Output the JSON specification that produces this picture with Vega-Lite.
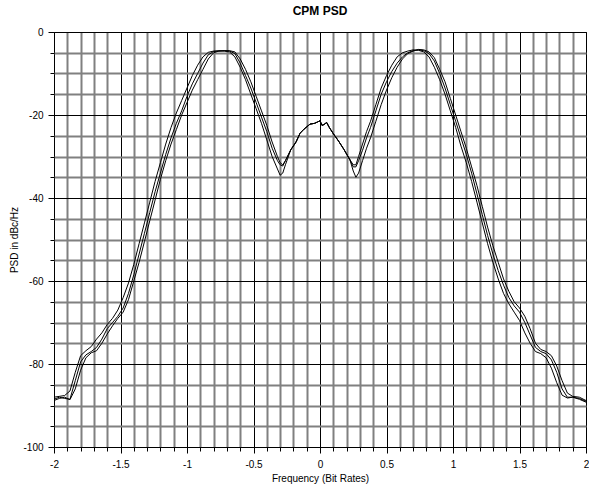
{
  "$schema": "https://vega.github.io/schema/vega-lite/v6.json",
  "autosize": "none",
  "padding": {"left": 54, "top": 32, "right": 3, "bottom": 42},
  "width": 532,
  "height": 415,
  "background": "white",
  "title": {"text": "CPM PSD", "font": "Liberation Sans", "fontSize": 12, "fontWeight": "bold", "color": "black", "offset": 9},
  "config": {
    "view": {"stroke": "black", "strokeWidth": 1},
    "axis": {"labelFont": "Liberation Sans", "titleFont": "Liberation Sans", "labelFontSize": 10, "titleFontSize": 10, "titleFontWeight": "normal", "labelColor": "black", "titleColor": "black", "domain": false, "tickColor": "black", "gridOpacity": 1}
  },
  "data": {
    "values": [
      {"f": -2.00, "a": -88.5, "b": -88.0, "c": -88.8},
      {"f": -1.96, "a": -88.0, "b": -87.8, "c": -88.3},
      {"f": -1.92, "a": -88.3, "b": -87.6, "c": -88.0},
      {"f": -1.88, "a": -88.5, "b": -86.5, "c": -88.6},
      {"f": -1.84, "a": -84.0, "b": -82.0, "c": -86.0},
      {"f": -1.80, "a": -79.5, "b": -78.0, "c": -81.5},
      {"f": -1.76, "a": -77.8, "b": -76.8, "c": -78.5},
      {"f": -1.72, "a": -77.0, "b": -75.8, "c": -77.3},
      {"f": -1.68, "a": -76.0, "b": -74.0, "c": -76.8},
      {"f": -1.64, "a": -74.0, "b": -72.5, "c": -75.0},
      {"f": -1.60, "a": -71.5, "b": -70.5, "c": -72.8},
      {"f": -1.56, "a": -70.0, "b": -69.0, "c": -70.8},
      {"f": -1.52, "a": -68.5, "b": -67.0, "c": -69.0},
      {"f": -1.48, "a": -66.5, "b": -64.0, "c": -67.5},
      {"f": -1.44, "a": -63.0, "b": -60.5, "c": -64.5},
      {"f": -1.40, "a": -58.5, "b": -56.0, "c": -60.0},
      {"f": -1.36, "a": -53.5, "b": -51.0, "c": -55.5},
      {"f": -1.32, "a": -48.5, "b": -46.0, "c": -50.5},
      {"f": -1.28, "a": -43.5, "b": -41.0, "c": -45.5},
      {"f": -1.24, "a": -38.5, "b": -36.0, "c": -40.5},
      {"f": -1.20, "a": -34.0, "b": -31.5, "c": -35.5},
      {"f": -1.16, "a": -29.5, "b": -27.0, "c": -31.0},
      {"f": -1.12, "a": -25.5, "b": -23.0, "c": -27.0},
      {"f": -1.08, "a": -22.0, "b": -19.5, "c": -23.5},
      {"f": -1.04, "a": -19.0, "b": -16.5, "c": -20.0},
      {"f": -1.00, "a": -15.5, "b": -13.5, "c": -17.0},
      {"f": -0.96, "a": -12.5, "b": -10.5, "c": -14.0},
      {"f": -0.92, "a": -10.0, "b": -8.0, "c": -11.5},
      {"f": -0.88, "a": -7.5, "b": -6.0, "c": -9.0},
      {"f": -0.84, "a": -5.5, "b": -4.9, "c": -6.5},
      {"f": -0.80, "a": -4.7, "b": -4.6, "c": -5.0},
      {"f": -0.76, "a": -4.6, "b": -4.5, "c": -4.6},
      {"f": -0.72, "a": -4.5, "b": -4.6, "c": -4.5},
      {"f": -0.68, "a": -4.6, "b": -4.8, "c": -4.5},
      {"f": -0.64, "a": -5.2, "b": -6.0, "c": -4.8},
      {"f": -0.60, "a": -7.5, "b": -8.5, "c": -6.5},
      {"f": -0.56, "a": -10.5, "b": -11.5, "c": -9.0},
      {"f": -0.52, "a": -13.5, "b": -15.0, "c": -12.0},
      {"f": -0.48, "a": -17.0, "b": -18.5, "c": -15.5},
      {"f": -0.44, "a": -20.5, "b": -22.0, "c": -19.0},
      {"f": -0.40, "a": -24.0, "b": -26.0, "c": -22.5},
      {"f": -0.36, "a": -28.0, "b": -30.0, "c": -26.5},
      {"f": -0.32, "a": -31.0, "b": -33.0, "c": -30.0},
      {"f": -0.30, "a": -32.0, "b": -34.5, "c": -31.5},
      {"f": -0.28, "a": -32.3, "b": -34.0, "c": -32.0},
      {"f": -0.26, "a": -31.0, "b": -32.0, "c": -31.0},
      {"f": -0.22, "a": -28.4, "b": -28.4, "c": -28.4},
      {"f": -0.18, "a": -26.5, "b": -26.5, "c": -26.5},
      {"f": -0.15, "a": -24.4, "b": -24.4, "c": -24.4},
      {"f": -0.12, "a": -23.4, "b": -23.4, "c": -23.4},
      {"f": -0.075, "a": -22.2, "b": -22.2, "c": -22.2},
      {"f": -0.04, "a": -22.0, "b": -22.0, "c": -22.0},
      {"f": -0.02, "a": -21.7, "b": -21.7, "c": -21.7},
      {"f": 0.00, "a": -21.4, "b": -21.4, "c": -21.4},
      {"f": 0.015, "a": -22.5, "b": -22.5, "c": -22.5},
      {"f": 0.03, "a": -22.3, "b": -22.3, "c": -22.3},
      {"f": 0.05, "a": -21.8, "b": -21.8, "c": -21.8},
      {"f": 0.07, "a": -23.0, "b": -23.0, "c": -23.0},
      {"f": 0.10, "a": -24.5, "b": -24.5, "c": -24.5},
      {"f": 0.14, "a": -26.3, "b": -26.3, "c": -26.3},
      {"f": 0.18, "a": -28.3, "b": -28.3, "c": -28.3},
      {"f": 0.225, "a": -30.8, "b": -30.8, "c": -30.8},
      {"f": 0.25, "a": -32.5, "b": -33.5, "c": -32.0},
      {"f": 0.27, "a": -32.5, "b": -35.0, "c": -32.0},
      {"f": 0.29, "a": -31.0, "b": -34.0, "c": -30.0},
      {"f": 0.32, "a": -28.5, "b": -31.0, "c": -27.0},
      {"f": 0.35, "a": -25.5, "b": -28.0, "c": -24.0},
      {"f": 0.38, "a": -23.0, "b": -25.5, "c": -21.5},
      {"f": 0.42, "a": -19.0, "b": -21.5, "c": -17.5},
      {"f": 0.46, "a": -15.0, "b": -17.5, "c": -13.5},
      {"f": 0.50, "a": -12.0, "b": -14.0, "c": -10.5},
      {"f": 0.54, "a": -9.5, "b": -11.0, "c": -8.0},
      {"f": 0.58, "a": -7.5, "b": -8.5, "c": -6.0},
      {"f": 0.62, "a": -6.0, "b": -6.5, "c": -5.0},
      {"f": 0.66, "a": -5.0, "b": -5.2, "c": -4.6},
      {"f": 0.70, "a": -4.5, "b": -4.6, "c": -4.3},
      {"f": 0.74, "a": -4.3, "b": -4.2, "c": -4.4},
      {"f": 0.78, "a": -4.5, "b": -4.3, "c": -4.8},
      {"f": 0.82, "a": -5.2, "b": -4.8, "c": -6.0},
      {"f": 0.86, "a": -7.0, "b": -6.2, "c": -8.5},
      {"f": 0.90, "a": -10.0, "b": -9.0, "c": -11.5},
      {"f": 0.94, "a": -13.5, "b": -12.0, "c": -15.0},
      {"f": 0.98, "a": -17.5, "b": -16.0, "c": -19.0},
      {"f": 1.02, "a": -21.5, "b": -20.0, "c": -23.0},
      {"f": 1.06, "a": -25.5, "b": -24.0, "c": -27.5},
      {"f": 1.10, "a": -29.5, "b": -28.0, "c": -31.5},
      {"f": 1.14, "a": -34.0, "b": -32.5, "c": -36.0},
      {"f": 1.18, "a": -39.0, "b": -37.0, "c": -41.0},
      {"f": 1.22, "a": -44.0, "b": -42.0, "c": -46.0},
      {"f": 1.26, "a": -49.0, "b": -47.0, "c": -51.0},
      {"f": 1.30, "a": -53.5, "b": -51.5, "c": -55.5},
      {"f": 1.34, "a": -57.5, "b": -55.5, "c": -59.5},
      {"f": 1.38, "a": -61.0, "b": -59.5, "c": -63.0},
      {"f": 1.42, "a": -64.0, "b": -62.5, "c": -65.5},
      {"f": 1.46, "a": -66.0, "b": -65.0, "c": -67.5},
      {"f": 1.50, "a": -67.5, "b": -66.5, "c": -69.5},
      {"f": 1.54, "a": -70.0, "b": -68.5, "c": -72.5},
      {"f": 1.58, "a": -73.0, "b": -71.5, "c": -75.0},
      {"f": 1.62, "a": -76.0, "b": -75.0, "c": -77.0},
      {"f": 1.66, "a": -77.0, "b": -76.5, "c": -77.5},
      {"f": 1.70, "a": -77.5, "b": -77.0, "c": -78.5},
      {"f": 1.74, "a": -79.0, "b": -78.0, "c": -81.0},
      {"f": 1.78, "a": -82.0, "b": -80.5, "c": -84.5},
      {"f": 1.82, "a": -86.0, "b": -84.0, "c": -87.5},
      {"f": 1.86, "a": -88.0, "b": -87.0, "c": -88.2},
      {"f": 1.90, "a": -88.0, "b": -87.8, "c": -88.0},
      {"f": 1.95, "a": -88.3, "b": -88.0, "c": -88.5},
      {"f": 2.00, "a": -89.0, "b": -88.8, "c": -89.2}
    ]
  },
  "transform": [{"fold": ["a", "b", "c"], "as": ["series", "psd"]}],
  "mark": {"type": "line", "color": "black", "strokeWidth": 1, "clip": true},
  "encoding": {
    "x": {
      "field": "f", "type": "quantitative",
      "scale": {"domain": [-2, 2], "nice": false, "zero": false},
      "axis": {
        "title": "Frequency (Bit Rates)",
        "titlePadding": 4,
        "values": [-2, -1.9, -1.8, -1.7, -1.6, -1.5, -1.4, -1.3, -1.2, -1.1, -1, -0.9, -0.8, -0.7, -0.6, -0.5, -0.4, -0.3, -0.2, -0.1, 0, 0.1, 0.2, 0.3, 0.4, 0.5, 0.6, 0.7, 0.8, 0.9, 1, 1.1, 1.2, 1.3, 1.4, 1.5, 1.6, 1.7, 1.8, 1.9, 2],
        "labelExpr": "abs(datum.value*2 - round(datum.value*2)) < 0.001 ? ('' + datum.value) : ''",
        "labelFlush": false,
        "labelOverlap": false,
        "labelPadding": 6,
        "grid": true,
        "gridColor": {"condition": {"test": "abs(datum.value*2 - round(datum.value*2)) < 0.001", "value": "black"}, "value": "#808080"},
        "gridWidth": {"condition": {"test": "abs(datum.value*2 - round(datum.value*2)) < 0.001", "value": 1}, "value": 2},
        "tickSize": {"condition": {"test": "abs(datum.value*2 - round(datum.value*2)) < 0.001", "value": 6}, "value": 4}
      }
    },
    "y": {
      "field": "psd", "type": "quantitative",
      "scale": {"domain": [-100, 0], "nice": false, "zero": false},
      "axis": {
        "title": "PSD in dBc/Hz",
        "titlePadding": 3,
        "values": [-100, -95, -90, -85, -80, -75, -70, -65, -60, -55, -50, -45, -40, -35, -30, -25, -20, -15, -10, -5, 0],
        "labelExpr": "datum.value % 20 === 0 ? ('' + datum.value) : ''",
        "labelFlush": false,
        "labelOverlap": false,
        "labelPadding": 5,
        "grid": true,
        "gridColor": {"condition": {"test": "datum.value % 20 === 0", "value": "black"}, "value": "#808080"},
        "gridWidth": {"condition": {"test": "datum.value % 20 === 0", "value": 1}, "value": 2},
        "tickSize": {"condition": {"test": "datum.value % 20 === 0", "value": 6}, "value": 4}
      }
    },
    "detail": {"field": "series"}
  }
}
